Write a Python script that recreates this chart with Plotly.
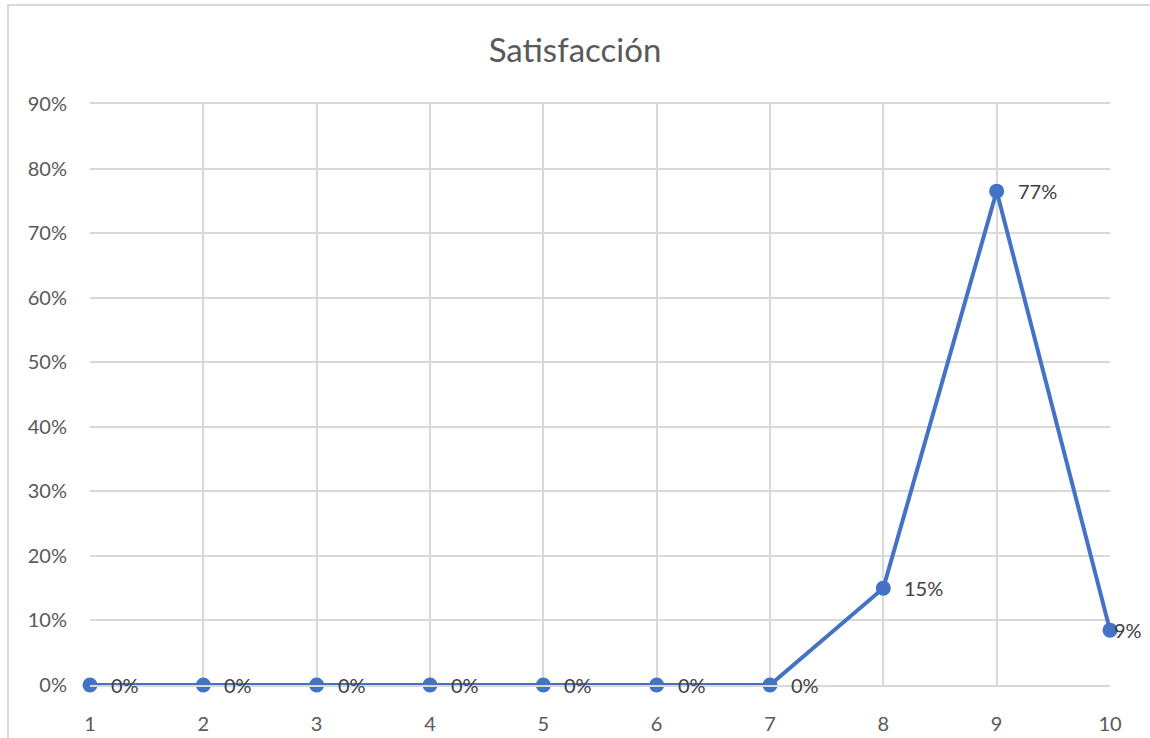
import plotly.graph_objects as go

categories = [1, 2, 3, 4, 5, 6, 7, 8, 9, 10]
values = [0, 0, 0, 0, 0, 0, 0, 0.15, 0.765, 0.085]
labels = ["0%", "0%", "0%", "0%", "0%", "0%", "0%", "15%", "77%", "9%"]
y_ticks = [0, 0.1, 0.2, 0.3, 0.4, 0.5, 0.6, 0.7, 0.8, 0.9]
y_tick_text = ["0%", "10%", "20%", "30%", "40%", "50%", "60%", "70%", "80%", "90%"]

FONT = "Lato, Open Sans, sans-serif"
BLUE = "#4472C4"
GRID = "#d9d9d9"

fig = go.Figure()
fig.add_trace(go.Scatter(
    x=categories, y=values, mode="lines+markers",
    line=dict(color=BLUE, width=4),
    marker=dict(color=BLUE, size=15),
    cliponaxis=False, hoverinfo="skip", showlegend=False,
))

for i, (c, v, t) in enumerate(zip(categories, values, labels)):
    fig.add_annotation(
        x=c, y=v, text=t, showarrow=False, xanchor="left", yanchor="middle",
        xshift=2 if i == len(categories) - 1 else 19,
        font=dict(family=FONT, size=20, color="#404040"),
    )

# outer chart border (left and top edges visible in the frame)
fig.add_shape(type="path", xref="paper", yref="paper",
              path="M -0.0804,-0.2 L -0.0804,1.1704 L 1.2,1.1704",
              line=dict(color=GRID, width=2), layer="below")

fig.update_layout(
    width=1150, height=738,
    margin=dict(l=90, r=40, t=104, b=53),
    paper_bgcolor="white", plot_bgcolor="white",
    title=dict(text="Satisfacción", x=0.5, xanchor="center", y=0.932, yanchor="middle",
               font=dict(family=FONT, size=33, color="#595959")),
    xaxis=dict(range=[1, 10], tickvals=categories, ticktext=[str(c) for c in categories],
               showgrid=True, gridcolor=GRID, gridwidth=1.5, zeroline=False,
               showline=True, linecolor=GRID, linewidth=1.5, mirror=True,
               ticks="", ticklabelstandoff=20, automargin=False,
               tickfont=dict(family=FONT, size=20, color="#595959")),
    yaxis=dict(range=[0, 0.9], tickvals=y_ticks, ticktext=y_tick_text,
               showgrid=True, gridcolor=GRID, gridwidth=1.5, zeroline=False,
               showline=False, ticks="", ticklabelstandoff=22, automargin=False,
               tickfont=dict(family=FONT, size=20, color="#595959")),
)

fig.write_html("out.html")
